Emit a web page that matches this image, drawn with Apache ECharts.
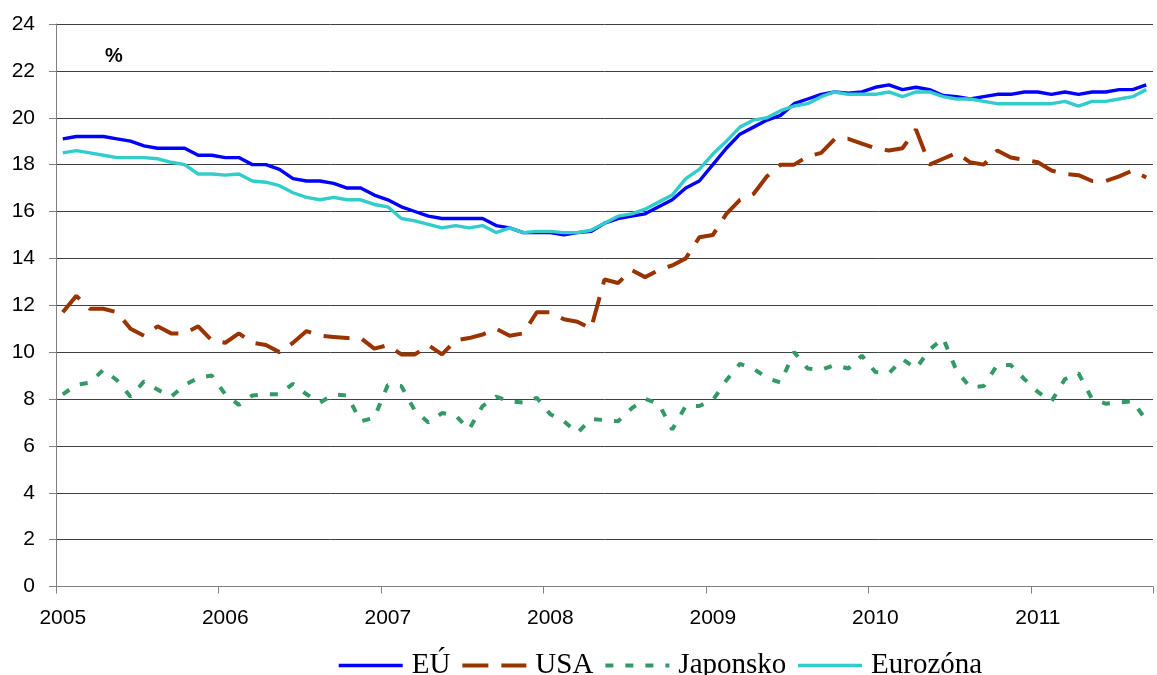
<!DOCTYPE html>
<html>
<head>
<meta charset="utf-8">
<script src="https://cdn.jsdelivr.net/npm/echarts@6/dist/echarts.min.js"></script>
<style>
html,body{margin:0;padding:0;background:#fff;}
#chart{width:1157px;height:675px;}
</style>
</head>
<body>
<div id="chart"></div>
<script>
var years = ['2005','2006','2007','2008','2009','2010','2011'];
var yTicks = [0,2,4,6,8,10,12,14,16,18,20,22,24];
var seriesNames = ['EÚ','USA','Japonsko','Eurozóna'];

var eu = [19.1,19.2,19.2,19.2,19.1,19.0,18.8,18.7,18.7,18.7,18.4,18.4,
  18.3,18.3,18.0,18.0,17.8,17.4,17.3,17.3,17.2,17.0,17.0,16.7,
  16.5,16.2,16.0,15.8,15.7,15.7,15.7,15.7,15.4,15.3,15.1,15.1,
  15.1,15.0,15.1,15.15,15.5,15.7,15.8,15.9,16.2,16.5,17.0,17.3,
  18.0,18.7,19.3,19.6,19.9,20.1,20.6,20.8,21.0,21.1,21.05,21.1,
  21.3,21.4,21.2,21.3,21.2,20.95,20.9,20.8,20.9,21.0,21.0,21.1,
  21.1,21.0,21.1,21.0,21.1,21.1,21.2,21.2,21.4];

var usa = [11.7,12.4,11.85,11.85,11.7,11.0,10.7,11.1,10.8,10.8,11.1,10.5,
  10.4,10.8,10.4,10.3,10.0,10.4,10.9,10.7,10.65,10.6,10.6,10.15,
  10.3,9.9,9.9,10.3,9.9,10.5,10.6,10.75,11.0,10.7,10.8,11.7,
  11.7,11.4,11.3,11.0,13.1,12.95,13.5,13.2,13.5,13.7,14.0,14.9,
  15.0,15.9,16.5,16.75,17.5,18.0,18.0,18.35,18.5,19.1,19.1,18.9,
  18.7,18.6,18.7,19.5,18.0,18.25,18.5,18.1,18.0,18.6,18.3,18.2,
  18.1,17.75,17.6,17.55,17.3,17.3,17.5,17.75,17.45];

var japan = [8.2,8.6,8.7,9.25,8.8,8.1,8.75,8.4,8.1,8.6,8.9,9.0,
  8.2,7.75,8.15,8.2,8.2,8.65,8.2,7.85,8.2,8.15,7.05,7.2,
  8.6,8.55,7.5,7.0,7.4,7.3,6.7,7.7,8.1,7.9,7.85,8.05,
  7.35,7.05,6.55,7.15,7.1,7.05,7.6,8.0,7.8,6.7,7.7,7.7,
  7.95,8.8,9.5,9.3,8.9,8.7,10.0,9.3,9.25,9.45,9.3,9.85,
  9.15,9.1,9.7,9.3,10.1,10.6,9.2,8.5,8.55,9.45,9.45,8.85,
  8.3,7.9,8.85,9.1,8.0,7.8,7.85,7.9,7.1];

var eurozone = [18.5,18.6,18.5,18.4,18.3,18.3,18.3,18.25,18.1,18.0,17.6,17.6,
  17.55,17.6,17.3,17.25,17.1,16.8,16.6,16.5,16.6,16.5,16.5,16.3,
  16.2,15.7,15.6,15.45,15.3,15.4,15.3,15.4,15.1,15.3,15.1,15.15,
  15.15,15.1,15.1,15.2,15.5,15.8,15.9,16.1,16.4,16.7,17.4,17.8,
  18.45,19.0,19.6,19.9,20.0,20.3,20.5,20.6,20.9,21.1,21.0,21.0,
  21.0,21.1,20.9,21.1,21.1,20.9,20.8,20.8,20.7,20.6,20.6,20.6,
  20.6,20.6,20.7,20.5,20.7,20.7,20.8,20.9,21.2];

// monthly categories Jan 2005 .. Sep 2011
var categories = [];
for (var yi = 0; yi < years.length; yi++) {
  for (var m = 1; m <= 12; m++) {
    if (categories.length < eu.length) categories.push(years[yi] + '-' + (m < 10 ? '0' + m : m));
  }
}

var chart = echarts.init(document.getElementById('chart'), null, {renderer: 'canvas'});
var sans = "'Liberation Sans', Arial, sans-serif";
var serif = "'Liberation Serif', 'Times New Roman', serif";

var option = {
  animation: false,
  backgroundColor: '#ffffff',
  grid: {left: 56, right: 4, top: 24, bottom: 88.5, containLabel: false},
  legend: {
    data: seriesNames,
    left: 337,
    top: 651,
    padding: 0,
    itemWidth: 64,
    itemHeight: 14,
    itemGap: 10,
    itemStyle: {opacity: 0},
    lineStyle: {width: 'inherit', type: 'inherit', opacity: 1},
    textStyle: {fontFamily: serif, fontSize: 29, color: '#000', padding: [0,0,0,4]}
  },
  graphic: [{
    type: 'text', left: 105, top: 46,
    style: {text: '%', font: "bold 20px 'Liberation Sans', Arial, sans-serif", fill: '#000'}
  }],
  xAxis: {
    type: 'category',
    data: categories,
    boundaryGap: true,
    axisLine: {show: true, lineStyle: {color: '#808080', width: 1}},
    axisTick: {show: true, interval: 11, length: 7, lineStyle: {color: '#808080'}},
    axisLabel: {
      interval: 11, margin: 21, color: '#000', fontFamily: sans, fontSize: 21,
      formatter: function (v) { return v.slice(0, 4); }
    },
    splitLine: {show: false}
  },
  yAxis: {
    type: 'value',
    min: yTicks[0], max: yTicks[yTicks.length - 1], interval: 2,
    axisLine: {show: true, lineStyle: {color: '#808080', width: 1}},
    axisTick: {show: true, length: 7, lineStyle: {color: '#808080'}},
    axisLabel: {margin: 21, color: '#000', fontFamily: sans, fontSize: 21},
    splitLine: {show: true, lineStyle: {color: '#404040', width: 1}}
  },
  series: [
    {name: seriesNames[0], type: 'line', data: eu, symbol: 'none', z: 4,
     lineStyle: {color: '#0000FF', width: 3.4}, itemStyle: {color: '#0000FF'}},
    {name: seriesNames[1], type: 'line', data: usa, symbol: 'none', z: 3,
     lineStyle: {color: '#993300', width: 4, type: [26, 13], cap: 'butt'}, itemStyle: {color: '#993300'}},
    {name: seriesNames[2], type: 'line', data: japan, symbol: 'none', z: 2,
     lineStyle: {color: '#339966', width: 4, type: [8, 12], cap: 'butt'}, itemStyle: {color: '#339966'}},
    {name: seriesNames[3], type: 'line', data: eurozone, symbol: 'none', z: 5,
     lineStyle: {color: '#33CCCC', width: 3.4}, itemStyle: {color: '#33CCCC'}}
  ]
};
chart.setOption(option);
</script>
</body>
</html>
